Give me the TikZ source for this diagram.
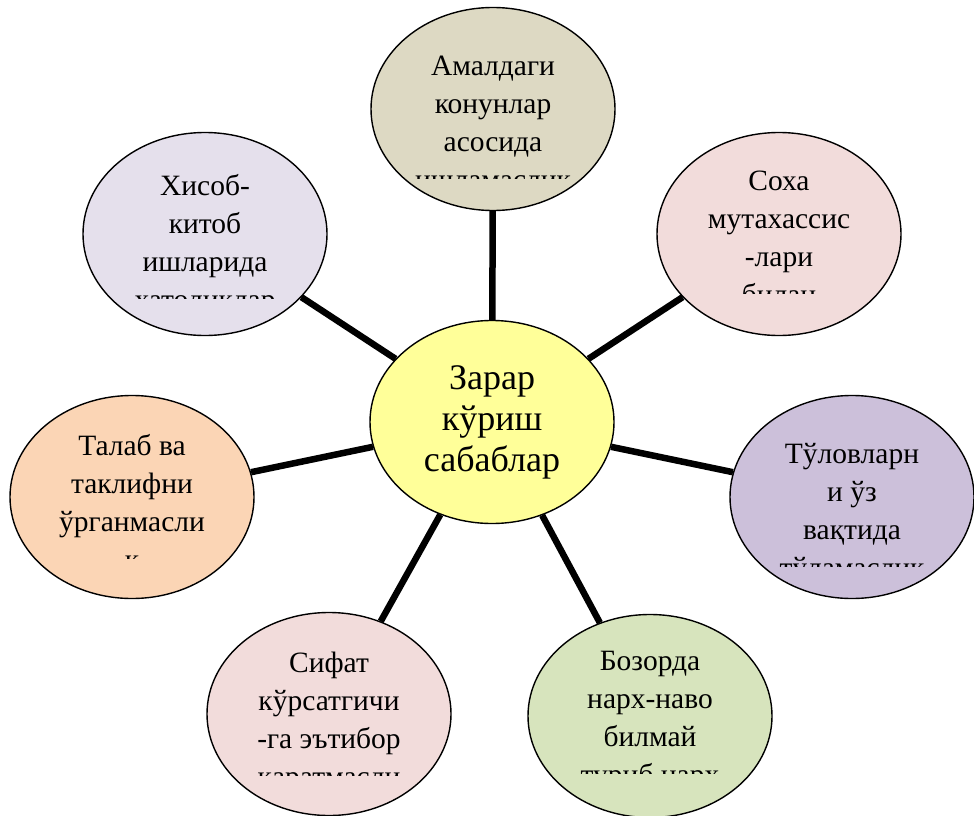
\documentclass[tikz,border=0pt]{standalone}
\usepackage{fontspec}
\setmainfont{Liberation Serif}
\usepackage{tikz}
\usetikzlibrary{shapes,calc,positioning}
\definecolor{cCore}{HTML}{FFFF99}
\definecolor{cTan}{HTML}{DDD9C3}
\definecolor{cRose}{HTML}{F2DCDB}
\definecolor{cLilac}{HTML}{CCC0DA}
\definecolor{cSage}{HTML}{D7E4BD}
\definecolor{cPeach}{HTML}{FBD5B5}
\definecolor{cMist}{HTML}{E5E0EC}
\tikzstyle{bubble} = [ellipse, draw, line width=1.4pt, minimum width=244pt, minimum height=203pt, inner sep=0pt]
\tikzstyle{spoke} = [draw, line width=6.5pt]
\tikzstyle{txt} = [align=center, inner sep=0pt, anchor=north, font={\fontsize{29.5}{38}\selectfont}]
% text of an outer bubble, cut off below the third line
\newcommand{\bubbletext}[3]{%
  \begin{scope}
    \clip ($(#1.center)+(-121,-100)$) rectangle ($(#1.center)+(121,#2+103)$);
    \node[txt] (#1Txt) at ($(#1.center)+(0,#2-26.6)$) {\strut #3};
  \end{scope}}
\begin{document}
\begin{tikzpicture}[
      x=1pt, y=-1pt
    ]
      \useasboundingbox (0,0) rectangle (974,816);

      \node[bubble, fill=cCore, align=center, font={\fontsize{36}{41}\selectfont}]
        (zarar) at (492,422) {Зарар\\кўриш\\сабаблар};
      \node[bubble, fill=cTan]   (amal)  at (493,109) {};
      \node[bubble, fill=cRose]  (soha)  at (779,234) {};
      \node[bubble, fill=cLilac] (tulov) at (852,497) {};
      \node[bubble, fill=cSage]  (bozor) at (650,716) {};
      \node[bubble, fill=cRose]  (sifat) at (329,714) {};
      \node[bubble, fill=cPeach] (talab) at (132,497) {};
      \node[bubble, fill=cMist]  (hisob) at (205,234) {};

      \bubbletext{amal}{-34}{Амалдаги\\конунлар\\асосида\\ишламаслик}
      \bubbletext{soha}{-44}{Соха\\мутахассис\\-лари\\билан}
      \bubbletext{tulov}{-34}{Тўловларн\\и ўз\\вақтида\\тўламаслик}
      \bubbletext{bozor}{-46}{Бозорда\\нарх-наво\\билмай\\туриб нарх}
      \bubbletext{sifat}{-42}{Сифат\\кўрсатгичи\\-га эътибор\\қаратмасли}
      \bubbletext{talab}{-42}{Талаб ва\\таклифни\\ўрганмасли\\к}
      \bubbletext{hisob}{-39}{Хисоб-\\китоб\\ишларида\\хатоликлар}

      \path[spoke] (zarar) edge (amal);
      \path[spoke] (zarar) edge (soha);
      \path[spoke] (zarar) edge (tulov);
      \path[spoke] (zarar) edge (bozor);
      \path[spoke] (zarar) edge (sifat);
      \path[spoke] (zarar) edge (talab);
      \path[spoke] (zarar) edge (hisob);
    \end{tikzpicture}
\end{document}
